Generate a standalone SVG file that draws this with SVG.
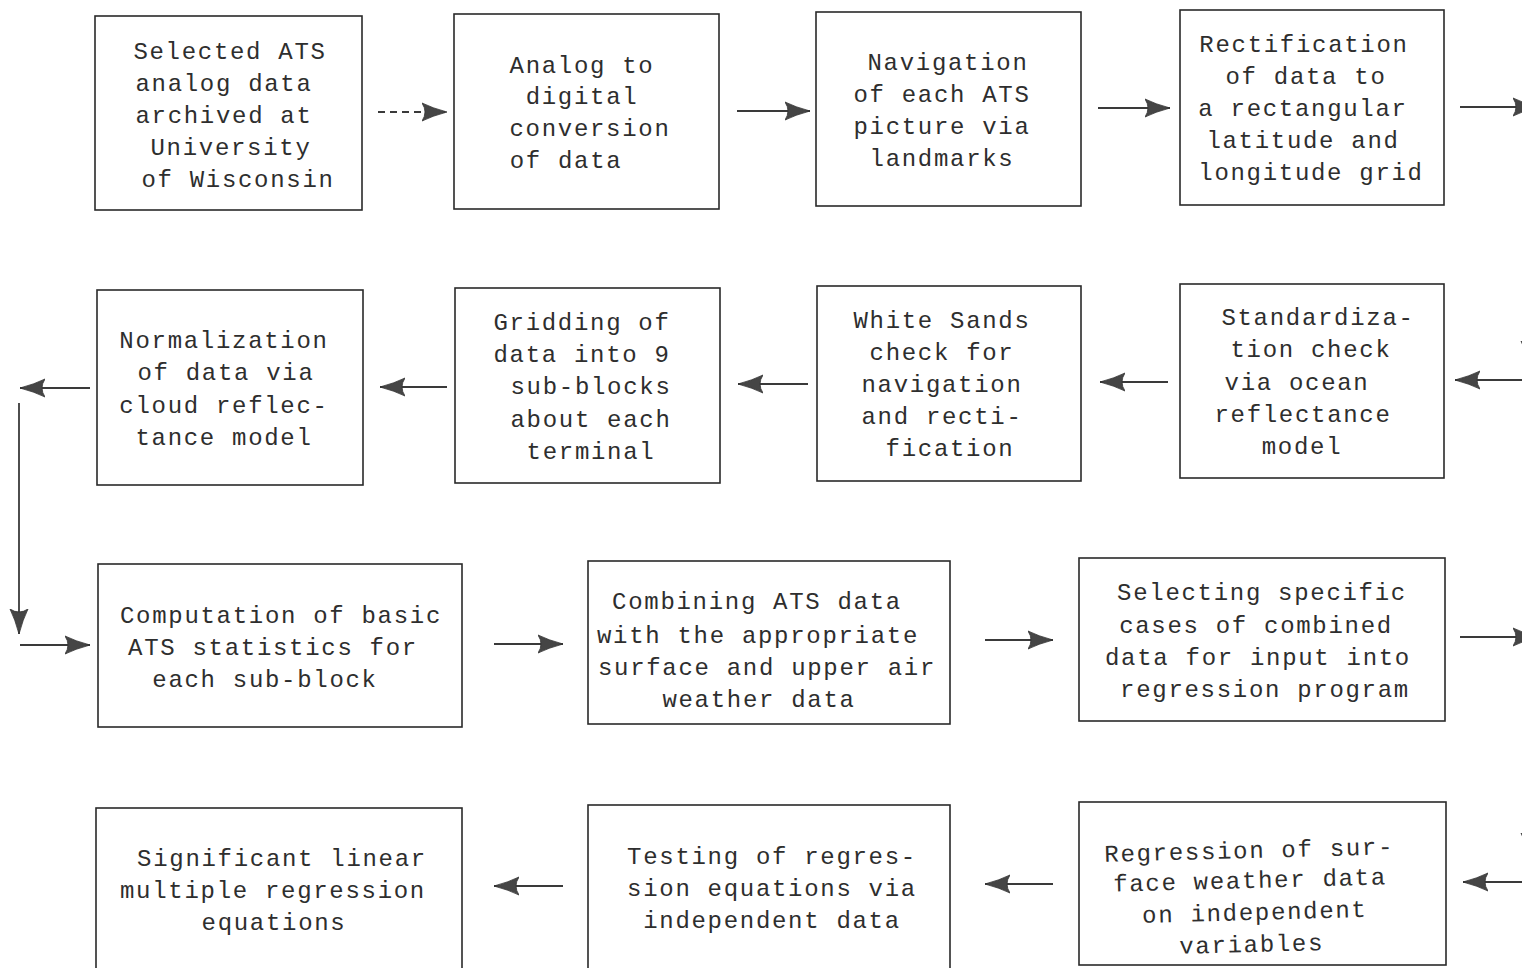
<svg xmlns="http://www.w3.org/2000/svg" width="1522" height="968" viewBox="0 0 1522 968">
<style>
.box{fill:none;stroke:#2a2a2a;stroke-width:1.6}
.t{font-family:"Liberation Mono","DejaVu Sans Mono",monospace;font-size:24px;letter-spacing:1.7px;fill:#2e2e2e;text-anchor:middle}
.c{stroke:#3a3a3a;stroke-width:1.8;fill:none}
.d{stroke-dasharray:7 5}
</style>
<defs>
<marker id="ah" markerUnits="userSpaceOnUse" markerWidth="28" markerHeight="20" refX="25" refY="10" orient="auto">
<path d="M0,1 Q10,6 25,10 Q10,14 0,19 Q6,10 0,1 z" fill="#454545" stroke="#333" stroke-width="0.8"/>
</marker>
</defs>
<rect width="1522" height="968" fill="#ffffff"/>
<g id="n1"><rect class="box" x="95" y="16" width="267" height="194"/>
<text class="t" x="230"><tspan x="230" y="59">Selected ATS</tspan><tspan x="224" y="91">analog data</tspan><tspan x="224" y="123">archived at</tspan><tspan x="231" y="155">University</tspan><tspan x="238" y="187">of Wisconsin</tspan></text></g>
<g id="n2"><rect class="box" x="454" y="14" width="265" height="195"/>
<text class="t"><tspan x="582" y="73">Analog to</tspan><tspan x="582" y="104">digital</tspan><tspan x="590" y="136">conversion</tspan><tspan x="566" y="168">of data</tspan></text></g>
<g id="n3"><rect class="box" x="816" y="12" width="265" height="194"/>
<text class="t"><tspan x="948" y="70">Navigation</tspan><tspan x="942" y="102">of each ATS</tspan><tspan x="942" y="134">picture via</tspan><tspan x="942" y="166">landmarks</tspan></text></g>
<g id="n4"><rect class="box" x="1180" y="10" width="264" height="195"/>
<text class="t"><tspan x="1304" y="52">Rectification</tspan><tspan x="1306" y="84">of data to</tspan><tspan x="1303" y="116">a rectangular</tspan><tspan x="1303" y="148">latitude and</tspan><tspan x="1311" y="180">longitude grid</tspan></text></g>
<g id="n5"><rect class="box" x="97" y="290" width="266" height="195"/>
<text class="t"><tspan x="224" y="348">Normalization</tspan><tspan x="226" y="380">of data via</tspan><tspan x="224" y="413">cloud reflec-</tspan><tspan x="224" y="445">tance model</tspan></text></g>
<g id="n6"><rect class="box" x="455" y="288" width="265" height="195"/>
<text class="t"><tspan x="582" y="330">Gridding of</tspan><tspan x="582" y="362">data into 9</tspan><tspan x="591" y="394">sub-blocks</tspan><tspan x="591" y="427">about each</tspan><tspan x="591" y="459">terminal</tspan></text></g>
<g id="n7"><rect class="box" x="817" y="286" width="264" height="195"/>
<text class="t"><tspan x="942" y="328">White Sands</tspan><tspan x="942" y="360">check for</tspan><tspan x="942" y="392">navigation</tspan><tspan x="942" y="424">and recti-</tspan><tspan x="950" y="456">fication</tspan></text></g>
<g id="n8"><rect class="box" x="1180" y="284" width="264" height="194"/>
<text class="t"><tspan x="1318" y="325">Standardiza-</tspan><tspan x="1311" y="357">tion check</tspan><tspan x="1297" y="390">via ocean</tspan><tspan x="1303" y="422">reflectance</tspan><tspan x="1302" y="454">model</tspan></text></g>
<g id="n9"><rect class="box" x="98" y="564" width="364" height="163"/>
<text class="t"><tspan x="281" y="623">Computation of basic</tspan><tspan x="273" y="655">ATS statistics for</tspan><tspan x="265" y="687">each sub-block</tspan></text></g>
<g id="n10"><rect class="box" x="588" y="561" width="362" height="163"/>
<text class="t"><tspan x="757" y="609">Combining ATS data</tspan><tspan x="758" y="643">with the appropriate</tspan><tspan x="767" y="675">surface and upper air</tspan><tspan x="759" y="707">weather data</tspan></text></g>
<g id="n11"><rect class="box" x="1079" y="558" width="366" height="163"/>
<text class="t"><tspan x="1262" y="600">Selecting specific</tspan><tspan x="1256" y="633">cases of combined</tspan><tspan x="1258" y="665">data for input into</tspan><tspan x="1265" y="697">regression program</tspan></text></g>
<g id="n12"><rect class="box" x="96" y="808" width="366" height="170"/>
<text class="t"><tspan x="282" y="866">Significant linear</tspan><tspan x="273" y="898">multiple regression</tspan><tspan x="274" y="930">equations</tspan></text></g>
<g id="n13"><rect class="box" x="588" y="805" width="362" height="170"/>
<text class="t"><tspan x="772" y="864">Testing of regres-</tspan><tspan x="772" y="896">sion equations via</tspan><tspan x="772" y="928">independent data</tspan></text></g>
<g id="n14"><rect class="box" x="1079" y="802" width="367" height="163"/>
<text class="t" transform="rotate(-1.5 1250 880)"><tspan x="1250" y="858">Regression of sur-</tspan><tspan x="1250" y="888">face weather data</tspan><tspan x="1254" y="920">on independent</tspan><tspan x="1250" y="952">variables</tspan></text></g>
<g id="connectors">
<line class="c d" x1="378" y1="112" x2="447" y2="112" marker-end="url(#ah)"/>
<line class="c" x1="737" y1="111" x2="810" y2="111" marker-end="url(#ah)"/>
<line class="c" x1="1098" y1="108" x2="1170" y2="108" marker-end="url(#ah)"/>
<line class="c" x1="1460" y1="107" x2="1538" y2="107" marker-end="url(#ah)"/>
<line class="c" x1="1530" y1="120" x2="1530" y2="366" marker-end="url(#ah)"/>
<line class="c" x1="1530" y1="380" x2="1455" y2="380" marker-end="url(#ah)"/>
<line class="c" x1="1168" y1="382" x2="1100" y2="382" marker-end="url(#ah)"/>
<line class="c" x1="808" y1="384" x2="738" y2="384" marker-end="url(#ah)"/>
<line class="c" x1="447" y1="387" x2="380" y2="387" marker-end="url(#ah)"/>
<line class="c" x1="90" y1="388" x2="20" y2="388" marker-end="url(#ah)"/>
<line class="c" x1="19" y1="403" x2="19" y2="634" marker-end="url(#ah)"/>
<line class="c" x1="20" y1="645" x2="90" y2="645" marker-end="url(#ah)"/>
<line class="c" x1="494" y1="644" x2="563" y2="644" marker-end="url(#ah)"/>
<line class="c" x1="985" y1="640" x2="1053" y2="640" marker-end="url(#ah)"/>
<line class="c" x1="1460" y1="637" x2="1538" y2="637" marker-end="url(#ah)"/>
<line class="c" x1="1530" y1="650" x2="1530" y2="858" marker-end="url(#ah)"/>
<line class="c" x1="1530" y1="882" x2="1463" y2="882" marker-end="url(#ah)"/>
<line class="c" x1="1053" y1="884" x2="985" y2="884" marker-end="url(#ah)"/>
<line class="c" x1="563" y1="886" x2="494" y2="886" marker-end="url(#ah)"/>
</g>
</svg>
